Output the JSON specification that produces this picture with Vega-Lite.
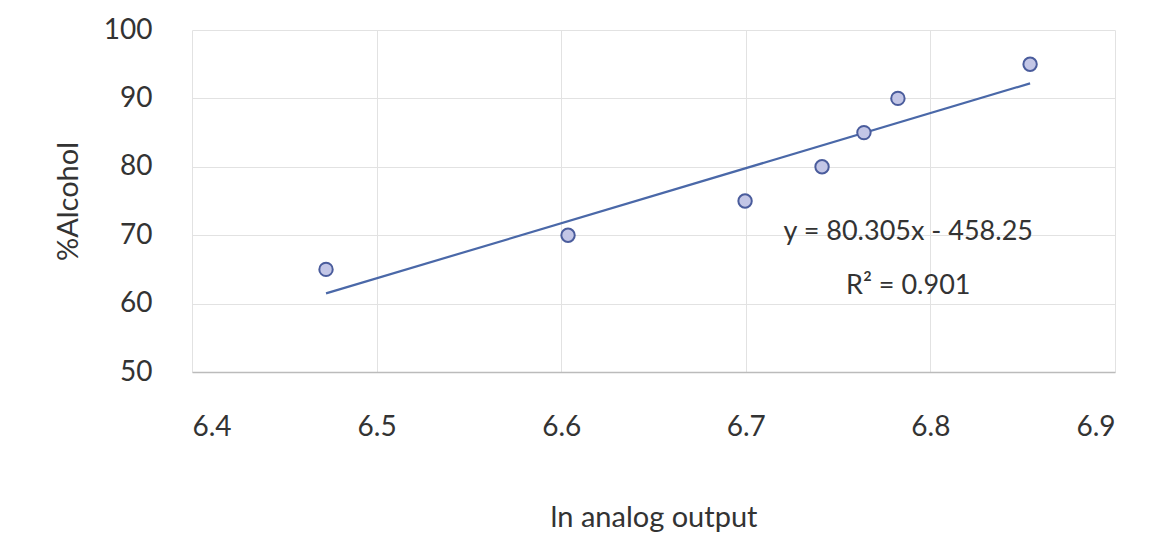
{
  "$schema": "https://vega.github.io/schema/vega-lite/v6.json",
  "width": 923,
  "height": 342,
  "autosize": {"type": "none"},
  "padding": {"left": 192, "top": 30, "right": 47, "bottom": 173},
  "background": "white",
  "config": {
    "font": "Lato",
    "view": {"stroke": null},
    "axis": {"labelFont": "Lato", "titleFont": "Lato", "labelColor": "#333333", "titleColor": "#333333", "labelFontWeight": "normal", "titleFontWeight": "normal"}
  },
  "data": {"values": [
    {"x": 6.4726, "y": 65},
    {"x": 6.6037, "y": 70},
    {"x": 6.6996, "y": 75},
    {"x": 6.7413, "y": 80},
    {"x": 6.7640, "y": 85},
    {"x": 6.7824, "y": 90},
    {"x": 6.8540, "y": 95}
  ]},
  "layer": [
    {
      "mark": {"type": "line", "color": "#4a68a8", "strokeWidth": 2.2},
      "transform": [{"regression": "y", "on": "x"}],
      "encoding": {
        "x": {"field": "x", "type": "quantitative", "scale": {"domain": [6.4, 6.9], "nice": false, "zero": false},
          "axis": {"values": [6.4, 6.5, 6.6, 6.7, 6.8, 6.9], "format": ".1f", "title": "ln analog output", "labelFontSize": 28, "titleFontSize": 29, "labelPadding": 41, "titlePadding": 62, "ticks": false, "domainColor": "#bbbbbb", "domainWidth": 1.5, "gridColor": "#e2e2e2", "gridWidth": 1}},
        "y": {"field": "y", "type": "quantitative", "scale": {"domain": [50, 100], "nice": false, "zero": false},
          "axis": {"values": [50, 60, 70, 80, 90, 100], "title": "%Alcohol", "labelFontSize": 28, "titleFontSize": 29, "labelPadding": 40, "titlePadding": 20, "ticks": false, "domain": false, "gridColor": "#e2e2e2", "gridWidth": 1}}
      }
    },
    {
      "mark": {"type": "point", "filled": true, "fill": "#c3c6e6", "stroke": "#4a5c9c", "strokeWidth": 2, "size": 180, "opacity": 1, "fillOpacity": 1},
      "encoding": {
        "x": {"field": "x", "type": "quantitative"},
        "y": {"field": "y", "type": "quantitative"}
      }
    },
    {
      "data": {"values": [
        {"x": 6.788, "y": 70.4, "label": "y = 80.305x - 458.25"},
        {"x": 6.788, "y": 62.6, "label": "R² = 0.901"}
      ]},
      "mark": {"type": "text", "fontSize": 27, "color": "#333333", "align": "center", "baseline": "middle", "font": "Lato"},
      "encoding": {
        "x": {"field": "x", "type": "quantitative"},
        "y": {"field": "y", "type": "quantitative"},
        "text": {"field": "label"}
      }
    }
  ]
}
